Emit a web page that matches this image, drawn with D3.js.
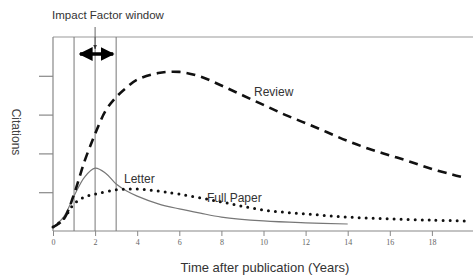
<!DOCTYPE html>
<html><head><meta charset="utf-8">
<script src="https://cdn.jsdelivr.net/npm/d3@7"></script>
<style>body{margin:0;background:#fff}svg{display:block}</style>
</head><body>
<svg id="c" width="473" height="278"></svg>
<script>
const reviewX = [0,0.5,1,1.5,2,2.5,3,3.5,4,5,6,7,8,9,10,11,12,13,14,15,16,17,18,19,19.6];
const reviewY = [0.1,0.3,0.95,1.8,2.5,3.1,3.45,3.7,3.9,4.07,4.1,3.98,3.75,3.5,3.25,3.0,2.78,2.55,2.32,2.12,1.95,1.78,1.6,1.45,1.37];
const letterX = [0,0.5,1,1.5,2,2.5,3,3.5,4,5,6,7,8,10,12,14];
const letterY = [0.1,0.36,0.9,1.39,1.62,1.49,1.21,1.03,0.9,0.7,0.57,0.46,0.36,0.26,0.21,0.18];
const paperX = [0,0.5,1,1.5,2,3,4,5,6,8,10,12,14,16,18,19.6];
const paperY = [0.1,0.31,0.7,0.88,0.95,1.06,1.08,1.03,0.95,0.75,0.54,0.44,0.36,0.31,0.28,0.26];
const xTicks = [0,2,4,6,8,10,12,14,16,18];
const yTicks = [1,2,3,4];
const windowYears = [1,2,3];
const seriesLabels = ["Review","Letter","Full Paper"];
const titleText = "Impact Factor window";
const xTitle = "Time after publication (Years)";
const yTitle = "Citations";

const svg = d3.select("#c");
const x = d3.scaleLinear().domain([0,20]).range([53,474]);
const y = d3.scaleLinear().domain([0,5]).range([231,37]);
const sans = "Liberation Sans, Arial, sans-serif";

// top border
svg.append("line").attr("x1",x(0)).attr("x2",473).attr("y1",y(5)).attr("y2",y(5))
  .attr("stroke","#999").attr("stroke-width",1.2);

// x axis
const xa = svg.append("g").attr("transform",`translate(0,${y(0)})`)
  .call(d3.axisBottom(x).tickValues(xTicks).tickSize(5).tickPadding(3).tickFormat(d3.format("d")));
xa.select(".domain").attr("d",`M${x(0)},0H473`).attr("stroke","#888").attr("stroke-width",1.2);
xa.selectAll(".tick line").attr("stroke","#888");
xa.selectAll("text").attr("font-family","Liberation Serif, serif").attr("font-size",8).attr("fill","#666");

// y axis
const ya = svg.append("g").attr("transform",`translate(${x(0)},0)`)
  .call(d3.axisLeft(y).tickValues(yTicks).tickSize(14).tickFormat(""));
ya.select(".domain").attr("d",`M0,${y(5)}V${y(0)}`).attr("stroke","#888").attr("stroke-width",1.2);
ya.selectAll(".tick line").attr("stroke","#888").attr("stroke-width",1.2);

// window lines
svg.selectAll(".wl").data(windowYears).join("line")
  .attr("x1",d=>x(d)).attr("x2",d=>x(d)).attr("y1",y(5)).attr("y2",y(0))
  .attr("stroke","#777").attr("stroke-width",1);

// double arrow
const ay = 54;
svg.append("defs").html(`<marker id="ah" viewBox="0 0 10 10" refX="9" refY="5" markerWidth="4" markerHeight="4" orient="auto-start-reverse"><path d="M0,0L10,5L0,10z" fill="#000"/></marker>
<marker id="sa" viewBox="0 0 10 10" refX="9" refY="5" markerWidth="5" markerHeight="5" orient="auto"><path d="M0,1L10,5L0,9z" fill="#333"/></marker>`);
svg.append("line").attr("x1",x(1)+6).attr("x2",x(3)-3).attr("y1",ay).attr("y2",ay)
  .attr("stroke","#000").attr("stroke-width",3.5)
  .attr("marker-start","url(#ah)").attr("marker-end","url(#ah)");
svg.append("line").attr("x1",x(2)).attr("x2",x(2)).attr("y1",27).attr("y2",49)
  .attr("stroke","#555").attr("stroke-width",0.9).attr("marker-end","url(#sa)");
svg.append("text").attr("x",108).attr("y",19).attr("text-anchor","middle")
  .attr("font-family",sans).attr("font-size",11.5).attr("fill","#333").text(titleText);

// curves
const line = d3.line().x(d=>x(d[0])).y(d=>y(d[1])).curve(d3.curveCatmullRom);
svg.append("path").datum(d3.zip(letterX,letterY)).attr("d",line)
  .attr("fill","none").attr("stroke","#777").attr("stroke-width",1.2);
svg.append("path").datum(d3.zip(paperX,paperY)).attr("d",line)
  .attr("fill","none").attr("stroke","#111").attr("stroke-width",3).attr("stroke-linecap","round")
  .attr("stroke-dasharray","0,7");
svg.append("path").datum(d3.zip(reviewX,reviewY)).attr("d",line)
  .attr("fill","none").attr("stroke","#111").attr("stroke-width",2.6).attr("stroke-dasharray","9,6");

// labels
const lab = [[seriesLabels[0],254,96],[seriesLabels[1],124,183],[seriesLabels[2],207,202]];
svg.selectAll(".sl").data(lab).join("text").attr("x",d=>d[1]).attr("y",d=>d[2])
  .attr("font-family",sans).attr("font-size",12).attr("fill","#333").text(d=>d[0]);

svg.append("text").attr("x",265).attr("y",272).attr("text-anchor","middle")
  .attr("font-family",sans).attr("font-size",13).attr("fill","#333").text(xTitle);
svg.append("text").attr("transform","translate(12,132) rotate(90)").attr("text-anchor","middle")
  .attr("font-family",sans).attr("font-size",12).attr("fill","#444").text(yTitle);
</script>
</body></html>
